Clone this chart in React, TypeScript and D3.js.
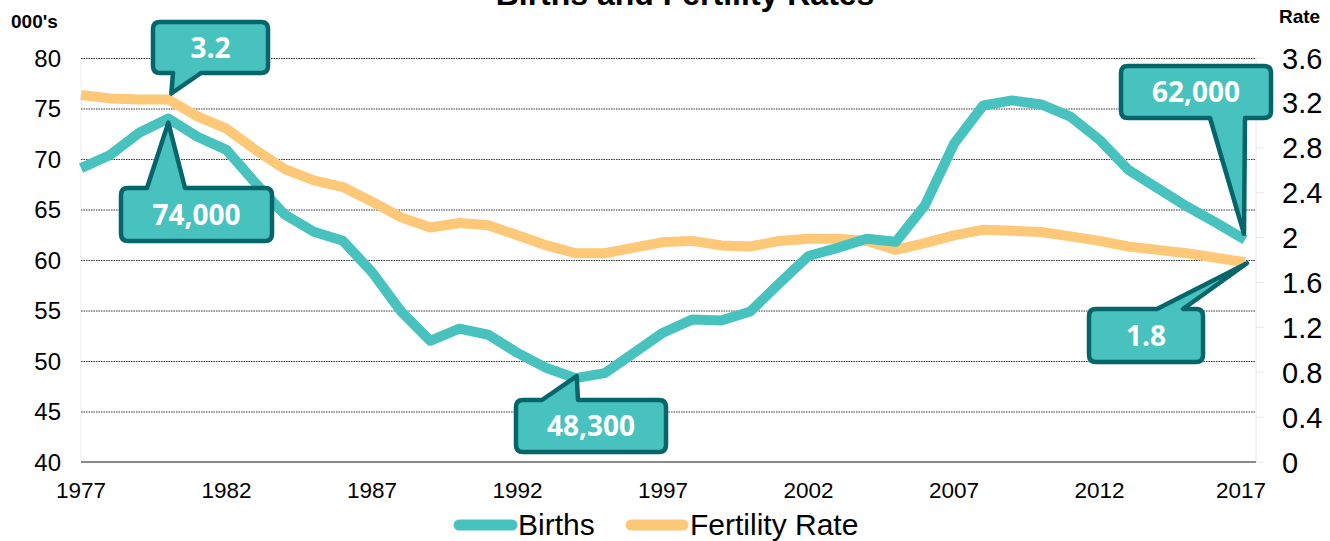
import React from "react";
import * as d3 from "d3";

const years: number[] = d3.range(1977, 2018);
const births: number[] = [
  69.1, 70.4, 72.6, 74.0, 72.2, 70.9, 67.6, 64.5, 62.8, 61.9,
  58.8, 54.9, 52.0, 53.2, 52.6, 50.8, 49.3, 48.3, 48.8, 50.8,
  52.8, 54.1, 54.0, 54.9, 57.7, 60.4, 61.2, 62.1, 61.8, 65.4,
  71.5, 75.3, 75.8, 75.4, 74.2, 71.9, 68.9, 67.1, 65.3, 63.7, 62.0,
];
const fertility: number[] = [
  3.27, 3.24, 3.23, 3.23, 3.08, 2.97, 2.78, 2.61, 2.51, 2.45,
  2.32, 2.18, 2.09, 2.13, 2.11, 2.02, 1.93, 1.86, 1.86, 1.91,
  1.96, 1.97, 1.93, 1.92, 1.97, 1.99, 1.99, 1.97, 1.89, 1.95,
  2.02, 2.07, 2.06, 2.05, 2.01, 1.97, 1.92, 1.89, 1.86, 1.82, 1.78,
];
const leftTicks: number[] = [40, 45, 50, 55, 60, 65, 70, 75, 80];
const rightTicks: number[] = [0, 0.4, 0.8, 1.2, 1.6, 2, 2.4, 2.8, 3.2, 3.6];
const xTicks: number[] = [1977, 1982, 1987, 1992, 1997, 2002, 2007, 2012, 2017];
const seriesNames: string[] = ["Births", "Fertility Rate"];
const annotations = [
  { year: 1980, series: "fertility", label: "3.2" },
  { year: 1980, series: "births", label: "74,000" },
  { year: 1994, series: "births", label: "48,300" },
  { year: 2017, series: "births", label: "62,000" },
  { year: 2017, series: "fertility", label: "1.8" },
];

// layout (box geometry for each callout, in the same order as annotations)
const calloutLayout = [
  { x: 153, y: 22, w: 115, h: 51, side: "bottom", b1: 173, b2: 201, dx: 3, dy: -6 },
  { x: 121, y: 188, w: 151, h: 53, side: "top", b1: 147, b2: 185, dx: 0, dy: 4 },
  { x: 516, y: 400, w: 150, h: 52, side: "top", b1: 542, b2: 578, dx: 1, dy: -2 },
  { x: 1121, y: 66, w: 150, h: 52, side: "bottom", b1: 1210, b2: 1245, dx: -1, dy: -6 },
  { x: 1089, y: 309, w: 114, h: 53, side: "top", b1: 1157, b2: 1183, dx: 2, dy: 1 },
];

const W = 1330;
const H = 541;
const TEAL = "#48C2BF";
const ORANGE = "#FDC877";
const DARK = "#04666B";

function calloutPath(c: any, tx: number, ty: number): string {
  const r = 7;
  const { x, y, w, h } = c;
  let p = `M${x + r},${y}`;
  if (c.side === "top") p += ` L${c.b1},${y} L${tx},${ty} L${c.b2},${y}`;
  p += ` L${x + w - r},${y} Q${x + w},${y} ${x + w},${y + r}`;
  p += ` L${x + w},${y + h - r} Q${x + w},${y + h} ${x + w - r},${y + h}`;
  if (c.side === "bottom") p += ` L${c.b2},${y + h} L${tx},${ty} L${c.b1},${y + h}`;
  p += ` L${x + r},${y + h} Q${x},${y + h} ${x},${y + h - r}`;
  p += ` L${x},${y + r} Q${x},${y} ${x + r},${y} Z`;
  return p;
}

export default function App() {
  const plotLeft = 81;
  const plotRight = 1256;
  const x = d3.scaleLinear().domain([1977, 2017]).range([81, 1245]);
  const yL = d3.scaleLinear().domain([40, 80]).range([462, 58]);
  const yR = d3.scaleLinear().domain([0, 3.6]).range([462, 58]);

  const birthLine = d3
    .line<number>()
    .x((_, i) => x(years[i]))
    .y((d) => yL(d));
  const fertLine = d3
    .line<number>()
    .x((_, i) => x(years[i]))
    .y((d) => yR(d));

  const font = "Liberation Sans, Arial, sans-serif";
  const calloutFont = "'Open Sans', 'Noto Sans', sans-serif";

  return (
    <svg
      width={W}
      height={H}
      style={{ position: "absolute", left: 0, top: 0, background: "#fff" }}
      fontFamily={font}
    >
      <text x={685} y={5} textAnchor="middle" fontWeight="bold" fontSize={32} fill="#000">
        Births and Fertility Rates
      </text>
      <text x={11} y={28} fontWeight="bold" fontSize={19} fill="#000">
        000's
      </text>
      <text x={1279} y={23} fontWeight="bold" fontSize={19} fill="#000">
        Rate
      </text>

      {/* left light axis */}
      <line x1={plotLeft} x2={plotLeft} y1={58} y2={462} stroke="#eeeeee" strokeWidth={1} />
      {/* right light axis */}
      <line x1={plotRight} x2={plotRight} y1={58} y2={462} stroke="#e8e8e8" strokeWidth={1} />
      {rightTicks.map((t) => (
        <line key={"rt" + t} x1={plotRight} x2={plotRight + 8} y1={yR(t)} y2={yR(t)} stroke="#e8e8e8" strokeWidth={1} />
      ))}

      {/* gridlines */}
      {leftTicks
        .filter((t) => t !== 40)
        .map((t) => (
          <line
            key={"g" + t}
            x1={plotLeft}
            x2={plotRight}
            y1={yL(t) + 0.5}
            y2={yL(t) + 0.5}
            stroke="#333"
            strokeWidth={1}
            strokeDasharray="1.5 1"
          />
        ))}
      <line x1={plotLeft} x2={plotRight} y1={462} y2={462} stroke="#8a8a8a" strokeWidth={2} />

      {/* left tick labels */}
      {leftTicks.map((t) => (
        <text key={"l" + t} x={61} y={yL(t) + 8.5} textAnchor="end" fontSize={24} fill="#000">
          {t}
        </text>
      ))}
      {/* right tick labels */}
      {rightTicks.map((t) => (
        <text key={"r" + t} x={1282} y={yR(t) + 10.5} fontSize={29} fill="#000">
          {d3.format("~g")(t)}
        </text>
      ))}
      {/* x tick labels */}
      {xTicks.map((t) => (
        <text key={"x" + t} x={x(t) - (t === 2017 ? 4 : 0)} y={498} textAnchor="middle" fontSize={22.5} fill="#000">
          {t}
        </text>
      ))}

      {/* series */}
      <path d={fertLine(fertility) || ""} fill="none" stroke={ORANGE} strokeWidth={10} strokeLinejoin="round" />
      <path d={birthLine(births) || ""} fill="none" stroke={TEAL} strokeWidth={10} strokeLinejoin="round" />

      {/* callouts */}
      {annotations.map((a, i) => {
        const idx = years.indexOf(a.year);
        const L = calloutLayout[i];
        const px = x(a.year) + L.dx;
        const py = (a.series === "births" ? yL(births[idx]) : yR(fertility[idx])) + L.dy;
        return (
          <g key={"c" + i}>
            <path d={calloutPath(L, px, py)} fill={TEAL} stroke={DARK} strokeWidth={4.5} strokeLinejoin="round" />
            <text
              x={L.x + L.w / 2}
              y={L.y + L.h / 2 + 10}
              textAnchor="middle"
              fontFamily={calloutFont}
              fontWeight="bold"
              fontSize={28}
              fill="#fff"
            >
              {a.label}
            </text>
          </g>
        );
      })}

      {/* legend */}
      <line x1={459} x2={512} y1={525} y2={525} stroke={TEAL} strokeWidth={11} strokeLinecap="round" />
      <text x={518} y={535} fontSize={30} fill="#000">
        {seriesNames[0]}
      </text>
      <line x1={631} x2={683} y1={525} y2={525} stroke={ORANGE} strokeWidth={11} strokeLinecap="round" />
      <text x={690} y={535} fontSize={30} fill="#000">
        {seriesNames[1]}
      </text>
    </svg>
  );
}
